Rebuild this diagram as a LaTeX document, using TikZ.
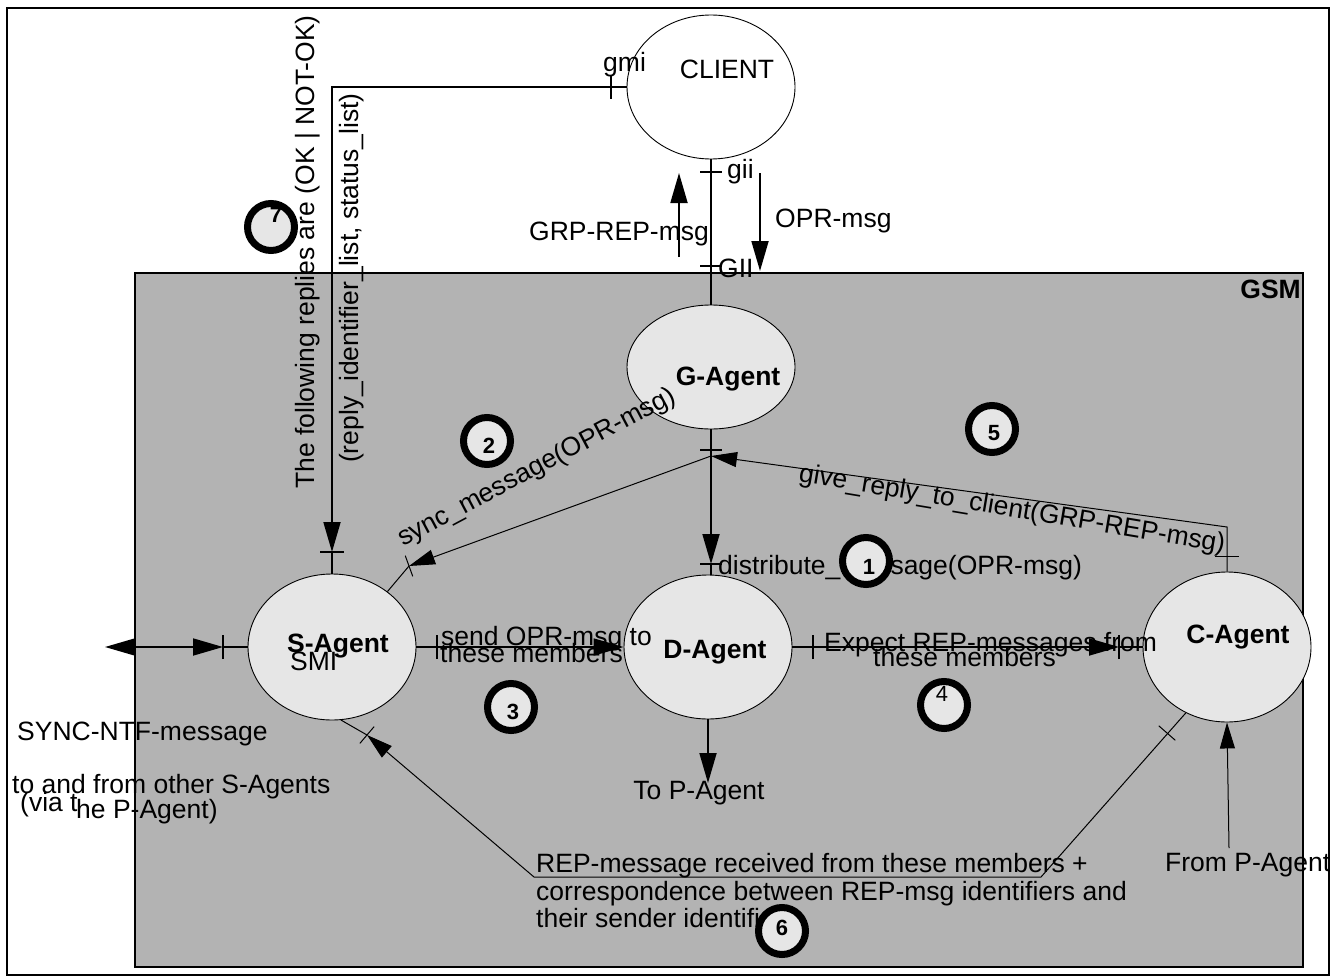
\documentclass[tikz,border=0pt]{standalone}
\usepackage{fontspec}
\setmainfont{Liberation Sans}
\usetikzlibrary{arrows.meta,shapes.geometric,calc}

\definecolor{gsmgray}{RGB}{179,179,179}
\definecolor{agentfill}{RGB}{230,230,230}

\tikzset{
  agent/.style={ellipse, draw, line width=0.9pt, fill=agentfill, inner sep=0pt, minimum width=168pt},
  lbl/.style={inner sep=0pt, font=\fontsize{26.5}{30}\selectfont},
  blbl/.style={inner sep=0pt, font=\fontsize{26.5}{30}\selectfont\bfseries},
  heavy/.style={line width=1.8pt},
  light/.style={line width=1pt},
  bigtip/.style={-{Triangle[length=30pt,width=17pt]}},
  smalltip/.style={-{Triangle[length=26pt,width=15pt]}},
  bothtips/.style={{Triangle[length=30pt,width=17pt]}-{Triangle[length=30pt,width=17pt]}},
  stepring/.style={circle, draw, line width=7pt, fill=agentfill, minimum size=47pt, inner sep=0pt},
  stepnum/.style={inner sep=0pt, font=\fontsize{22}{24}\selectfont\bfseries},
}

% short bar across a connector at #2, perpendicular to the direction towards #3
\newcommand{\tickat}[3][]{\draw[#1] ($(#2)!11pt!90:(#3)$) -- ($(#2)!11pt!-90:(#3)$);}

\begin{document}
\begin{tikzpicture}[x=1pt,y=-1pt]
\useasboundingbox (0,0) rectangle (1335,979);

% outer frame and the GSM area
\draw[line width=2.5pt] (7,8) rectangle (1329,975);
\draw[line width=2pt, fill=gsmgray] (135,273) rectangle (1303,967);
\node[blbl, anchor=base east] (gsm) at (1301,298) {GSM};

% agents
\node[agent, fill=white, minimum height=144pt] (client) at (711,87) {};
\node[agent, minimum height=124pt] (gagent) at (711,367) {};
\node[agent, minimum height=146pt] (sagent) at (332,647) {};
\node[agent, minimum height=144pt] (dagent) at (708,647) {};
\node[agent, minimum height=150pt] (cagent) at (1227,647) {};

% free ends and bend points of the connectors
\coordinate (giitick) at (711,172);
\coordinate (GIItick) at (711,266);
\coordinate (up0) at (679,257);
\coordinate (up1) at (679,173);
\coordinate (dn0) at (760,173);
\coordinate (dn1) at (760,271);
\coordinate (gmitick) at (611,87);
\coordinate (gmicorner) at (332,87);
\coordinate (smitick) at (332,552);
\coordinate (junctick) at (711,450);
\coordinate (junction) at (711,456);
\coordinate (dtick) at (711,564);
\coordinate (synctick) at (409,566);
\coordinate (replycorner) at (1227,527);
\coordinate (replytick) at (1227,556);
\coordinate (syncout) at (105,647);
\coordinate (syncin) at (223,647);
\coordinate (sendtick) at (437,647);
\coordinate (expecttick) at (813,647);
\coordinate (expectend) at (1119,647);
\coordinate (topagent) at (708,783);
\coordinate (frompagent) at (1229,848);
\coordinate (reptick) at (367,735);
\coordinate (repleft) at (534,877);
\coordinate (repright) at (1041,877);
\coordinate (repctick) at (1167,733);

% CLIENT <-> G-Agent
\draw[heavy] (client.south) -- (gagent.north);
\draw[heavy] ([xshift=-11pt]giitick) -- ([xshift=11pt]giitick);
\draw[heavy] ([xshift=-11pt]GIItick) -- ([xshift=11pt]GIItick);
\draw[heavy, bigtip] (up0) -- (up1);
\draw[heavy, bigtip] (dn0) -- (dn1);

% replies back to the S-Agent via gmi
\draw[heavy, bigtip] (client.west) -- (gmicorner) -- (smitick);
\draw[heavy] (smitick) -- (sagent.north);
\draw[heavy] ([yshift=-12pt]gmitick) -- ([yshift=12pt]gmitick);
\draw[heavy] ([xshift=-12pt]smitick) -- ([xshift=12pt]smitick);

% G-Agent -> D-Agent
\draw[heavy, bigtip] (gagent.south) -- (dtick);
\draw[heavy] (dtick) -- (dtick |- dagent.north);
\draw[heavy] ([xshift=-11pt]junctick) -- ([xshift=11pt]junctick);
\draw[heavy] ([xshift=-11pt]dtick) -- ([xshift=11pt]dtick);

% sync_message to the S-Agent
\draw[light, smalltip] (junction) -- (synctick);
\draw[light] (synctick) -- (sagent.45);
\tickat[light]{synctick}{junction}

% give_reply_to_client from the C-Agent
\draw[light, smalltip] (cagent.north) -- (replycorner) -- (junction);
\draw[light] ([xshift=-12pt]replytick) -- ([xshift=12pt]replytick);

% SYNC-NTF traffic on the left
\draw[heavy, bothtips] (syncout) -- (syncin);
\draw[heavy] (syncin) -- (sagent.west);
\draw[heavy] ([yshift=-12pt]syncin) -- ([yshift=12pt]syncin);

% S-Agent -> D-Agent -> C-Agent
\draw[heavy, bigtip] (sagent.east) -- (dagent.west);
\draw[heavy] ([yshift=-12pt]sendtick) -- ([yshift=12pt]sendtick);
\draw[heavy, bigtip] (dagent.east) -- (expectend);
\draw[heavy] (expectend) -- (cagent.west);
\draw[heavy] ([yshift=-12pt]expecttick) -- ([yshift=12pt]expecttick);
\draw[heavy] ([yshift=-12pt]expectend) -- ([yshift=12pt]expectend);

% P-Agent links
\draw[heavy, bigtip] (dagent.south) -- (topagent);
\draw[light, smalltip] (frompagent) -- (cagent.south);

% REP-message report from the C-Agent to the S-Agent
\draw[light, smalltip] (cagent.238) -- (repright) -- (repleft) -- (reptick);
\draw[light] (reptick) -- (sagent.-83);
\tickat[light]{reptick}{repleft}
\tickat[light]{repctick}{repright}

% agent names
\node[lbl, anchor=base] (clientlbl) at (727,79) {CLIENT};
\node[blbl, anchor=base] (gagentlbl) at (728,385) {G-Agent};
\node[lbl, anchor=base west] (smilbl) at (290,670) {SMI};
\node[blbl, anchor=base] (sagentlbl) at (338,652) {S-Agent};
\node[blbl, anchor=base] (dagentlbl) at (715,658) {D-Agent};
\node[blbl, anchor=base] (cagentlbl) at (1238,643) {C-Agent};

% interface and message labels
\node[lbl, anchor=base west] (gmilbl) at (603,72) {gmi};
\node[lbl, anchor=base west] (giilbl) at (727,178) {gii};
\node[lbl, anchor=base west] (GIIlbl) at (718,277) {GII};
\node[lbl, anchor=base] (grpreplbl) at (619,240) {GRP-REP-msg};
\node[lbl, anchor=base west] (oprlbl) at (775,227) {OPR-msg};
\node[lbl, rotate=90] (replieslbl) at (308,252) {The following replies are (OK | NOT-OK)};
\node[lbl, rotate=90] (replyidlbl) at (352,278) {(reply\_identifier\_list, status\_list)};
\node[lbl, rotate=28] (synclbl) at (537,468) {sync\_message(OPR-msg)};
\node[lbl, rotate=-9.5] (replylbl) at (1012,510) {give\_reply\_to\_client(GRP-REP-msg)};
\node[lbl, anchor=base west] (distlbl) at (718,574) {distribute\_message(OPR-msg)};
\node[lbl, anchor=base west] (sendlbl) at (441,645) {send OPR-msg to};
\node[lbl, anchor=base west] (sendlbltwo) at (440,662) {these members};
\node[lbl, anchor=base west] (expectlbl) at (824,651) {Expect REP-messages from};
\node[lbl, anchor=base west] (expectlbltwo) at (873,666) {these members};
\node[lbl, anchor=base west] (syncntflbl) at (17,740) {SYNC-NTF-message};
\node[lbl, anchor=base west] (otherslbl) at (12,793) {to and from other S-Agents};
\node[lbl, anchor=base west] (vialbl) at (20,811) {(via t};
\node[lbl, anchor=base west] (vialbltwo) at (76,818) {he P-Agent)};
\node[lbl, anchor=base] (topagentlbl) at (699,799) {To P-Agent};
\node[lbl, anchor=base west] (frompagentlbl) at (1165,871) {From P-Agent};
\node[lbl, anchor=base west] (replbl) at (536,872) {REP-message received from these members +};
\node[lbl, anchor=base west] (replbltwo) at (536,900) {correspondence between REP-msg identifiers and};
\node[lbl, anchor=base west] (replblthree) at (536,927) {their sender identifiers};

% step markers
\node[stepring] (ring7) at (271,227) {};
\node[stepnum] (num7) at (276,215) {7};
\node[stepring] (ring2) at (487,441) {};
\node[stepnum] (num2) at (489,446) {2};
\node[stepring] (ring5) at (992,429) {};
\node[stepnum] (num5) at (994,433) {5};
\node[stepring] (ring1) at (866,561) {};
\node[stepnum] (num1) at (869,567) {1};
\node[stepring] (ring3) at (511,707) {};
\node[stepnum] (num3) at (513,712) {3};
\node[stepring] (ring4) at (944,705) {};
\node[inner sep=0pt, font=\fontsize{22}{24}\selectfont] (num4) at (942,694) {4};
\node[stepring] (ring6) at (782,931) {};
\node[stepnum] (num6) at (782,928) {6};
\end{tikzpicture}
\end{document}
